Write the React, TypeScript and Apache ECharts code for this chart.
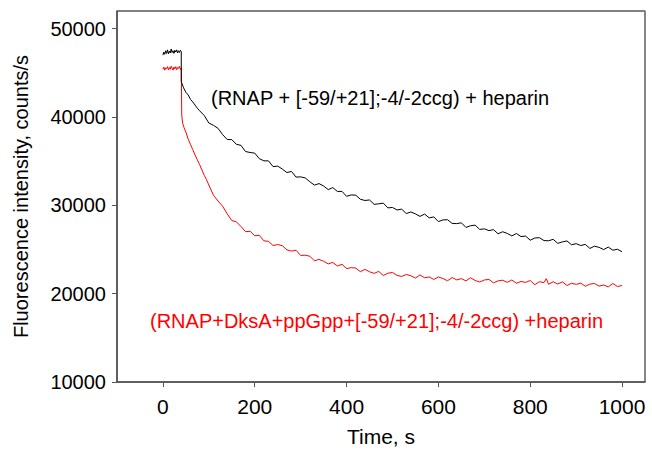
import React, { useEffect, useRef } from "react";
import * as echarts from "echarts";

const xTicks = [0, 200, 400, 600, 800, 1000];
const yTicks = [10000, 20000, 30000, 40000, 50000];

const blackLabel = "(RNAP + [-59/+21];-4/-2ccg) + heparin";
const redLabel = "(RNAP+DksA+ppGpp+[-59/+21];-4/-2ccg) +heparin";

// [time (s), counts/s]
const blackTrace: number[][] = [
  [0, 47000], [2, 47350], [4, 47100], [6, 47500], [8, 47200], [10, 47600], [12, 47150], [14, 47450],
  [16, 47250], [18, 47700], [20, 47300], [22, 47500], [24, 47200], [26, 47550], [28, 47350], [30, 47600],
  [32, 47250], [34, 47500], [36, 47300], [38, 47550], [40, 47400],
  [40, 44000], [45, 43300], [50, 42800], [55, 42500], [60, 42000], [65, 41700], [70, 41350], [75, 41000], [80, 40700],
  [90, 40170], [100, 39320], [110, 39060], [120, 38720], [130, 38010], [140, 37450], [150, 37440], [160, 36910],
  [170, 36790], [180, 36090], [190, 35980], [200, 35910], [210, 35280], [220, 35040], [230, 35030], [240, 34380],
  [250, 34440], [260, 34110], [270, 33710], [280, 33840], [290, 33200], [300, 33220], [310, 33100], [320, 32670],
  [330, 32290], [340, 32460], [350, 32190], [360, 31780], [370, 32010], [380, 31570], [390, 31580], [400, 31020],
  [410, 31180], [420, 31150], [430, 30690], [440, 30550], [450, 30610], [460, 30110], [470, 30170], [480, 30250],
  [490, 29710], [500, 29760], [510, 29470], [520, 29570], [530, 29070], [540, 29250], [550, 29030], [560, 28750],
  [570, 29010], [580, 28580], [590, 28690], [600, 28160], [610, 28350], [620, 28370], [630, 27950], [640, 27930],
  [650, 28020], [660, 27500], [670, 27690], [680, 27760], [690, 27270], [700, 27340], [710, 27140], [720, 27250],
  [730, 26780], [740, 27010], [750, 26820], [760, 26540], [770, 26810], [780, 26460], [790, 26520], [800, 26050],
  [810, 26300], [820, 26340], [830, 26010], [840, 25990], [850, 26150], [860, 25700], [870, 25860], [880, 25970],
  [890, 25530], [900, 25660], [910, 25450], [920, 25580], [930, 25120], [940, 25380], [950, 25240], [960, 24990],
  [970, 25270], [980, 24920], [990, 25030], [1000, 24750],
];

const redTrace: number[][] = [
  [0, 45400], [2, 45650], [4, 45300], [6, 45550], [8, 45450], [10, 45700], [12, 45350], [14, 45600],
  [16, 45400], [18, 45750], [20, 45500], [22, 45300], [24, 45650], [26, 45450], [28, 45700], [30, 45350],
  [32, 45600], [34, 45500], [36, 45750], [38, 45400], [40, 45550],
  [41, 40200], [43, 39300], [46, 38800], [50, 38300], [55, 37500], [60, 36900], [65, 36300], [70, 35700],
  [75, 35150], [80, 34600], [85, 34000], [90, 33400], [95, 32900], [100, 32300],
  [110, 31150], [120, 30490], [130, 29900], [140, 29040], [150, 28280], [160, 28130], [170, 27610], [180, 27020],
  [190, 27060], [200, 26560], [210, 26590], [220, 25980], [230, 25920], [240, 25450], [250, 25560], [260, 25430],
  [270, 24960], [280, 24820], [290, 24910], [300, 24330], [310, 24350], [320, 24240], [330, 23720], [340, 23880],
  [350, 23670], [360, 23370], [370, 23540], [380, 23130], [390, 23330], [400, 22840], [410, 22940], [420, 22900],
  [430, 22490], [440, 22750], [450, 22480], [460, 22300], [470, 22520], [480, 22060], [490, 22310], [500, 22400],
  [510, 22070], [520, 21950], [530, 22170], [540, 22030], [550, 21760], [560, 22120], [570, 21800], [580, 21890],
  [590, 21610], [600, 21890], [610, 21710], [620, 21460], [630, 21830], [640, 21560], [650, 21700], [660, 21450],
  [670, 21800], [680, 21490], [690, 21320], [700, 21550], [710, 21610], [720, 21230], [730, 21450], [740, 21520],
  [750, 21280], [760, 21550], [770, 21180], [780, 21380], [790, 21280], [800, 21490], [810, 21020], [820, 21350],
  [830, 21260], [835, 21700], [840, 21060], [850, 21350], [860, 21090], [870, 21340], [880, 20930], [890, 21180],
  [900, 21050], [910, 21190], [920, 20840], [930, 21080], [940, 21150], [950, 20860], [960, 20980], [970, 20770],
  [980, 21150], [990, 20810], [1000, 20920],
];

const FONT = "'Liberation Sans', Arial, Helvetica, sans-serif";
const plain = (v: number) => String(v);

export default function App() {
  const ref = useRef<HTMLDivElement>(null);
  useEffect(() => {
    if (!ref.current) return;
    const chart = echarts.init(ref.current, undefined, { renderer: "svg" });
    chart.setOption({
      animation: false,
      backgroundColor: "#ffffff",
      textStyle: { fontFamily: FONT },
      grid: {
        left: 117,
        right: 7,
        top: 11,
        bottom: 74,
        show: true,
        borderColor: "#000",
        borderWidth: 1,
        backgroundColor: "transparent",
      },
      xAxis: {
        type: "value",
        min: -100,
        max: 1050,
        name: "Time, s",
        nameLocation: "middle",
        nameGap: 44,
        nameTextStyle: { fontSize: 21, color: "#000", fontFamily: FONT },
        splitLine: { show: false },
        axisLine: { show: true, onZero: false, lineStyle: { color: "#555", width: 1.5 } },
        axisTick: { show: true, inside: false, length: 5, customValues: xTicks, lineStyle: { color: "#555" } },
        axisLabel: { customValues: xTicks, formatter: plain, fontSize: 21, color: "#000", margin: 14, fontFamily: FONT },
      },
      yAxis: [
        {
          type: "value",
          min: 10000,
          max: 52000,
          name: "Fluorescence intensity, counts/s",
          nameLocation: "middle",
          nameGap: 86,
          nameTextStyle: { fontSize: 20, color: "#000", fontFamily: FONT },
          splitLine: { show: false },
          axisLine: { show: true, onZero: false, lineStyle: { color: "#555", width: 1.5 } },
          axisTick: { show: true, inside: false, length: 5, customValues: yTicks, lineStyle: { color: "#555" } },
          axisLabel: { customValues: yTicks, formatter: plain, fontSize: 20, color: "#000", margin: 11, fontFamily: FONT },
        },
        {
          type: "value",
          position: "right",
          min: 10000,
          max: 52000,
          splitLine: { show: false },
          axisLine: { show: true, onZero: false, lineStyle: { color: "#888", width: 1.5 } },
          axisTick: { show: false },
          axisLabel: { show: false },
        },
      ],
      series: [
        {
          type: "line",
          data: blackTrace,
          showSymbol: false,
          symbol: "none",
          lineStyle: { color: "#000", width: 1 },
          z: 3,
        },
        {
          type: "line",
          data: redTrace,
          showSymbol: false,
          symbol: "none",
          lineStyle: { color: "#ff0000", width: 1 },
          z: 2,
        },
      ],
      graphic: [
        {
          type: "text",
          left: 211,
          top: 88,
          style: { text: blackLabel, fill: "#000", font: `20px ${FONT}` },
        },
        {
          type: "text",
          left: 150,
          top: 311,
          style: { text: redLabel, fill: "#ff0000", font: `20px ${FONT}` },
        },
      ],
    });
    return () => chart.dispose();
  }, []);
  return (
    <div
      ref={ref}
      style={{ position: "fixed", left: 0, top: 0, width: 652, height: 456, background: "#fff" }}
    />
  );
}
